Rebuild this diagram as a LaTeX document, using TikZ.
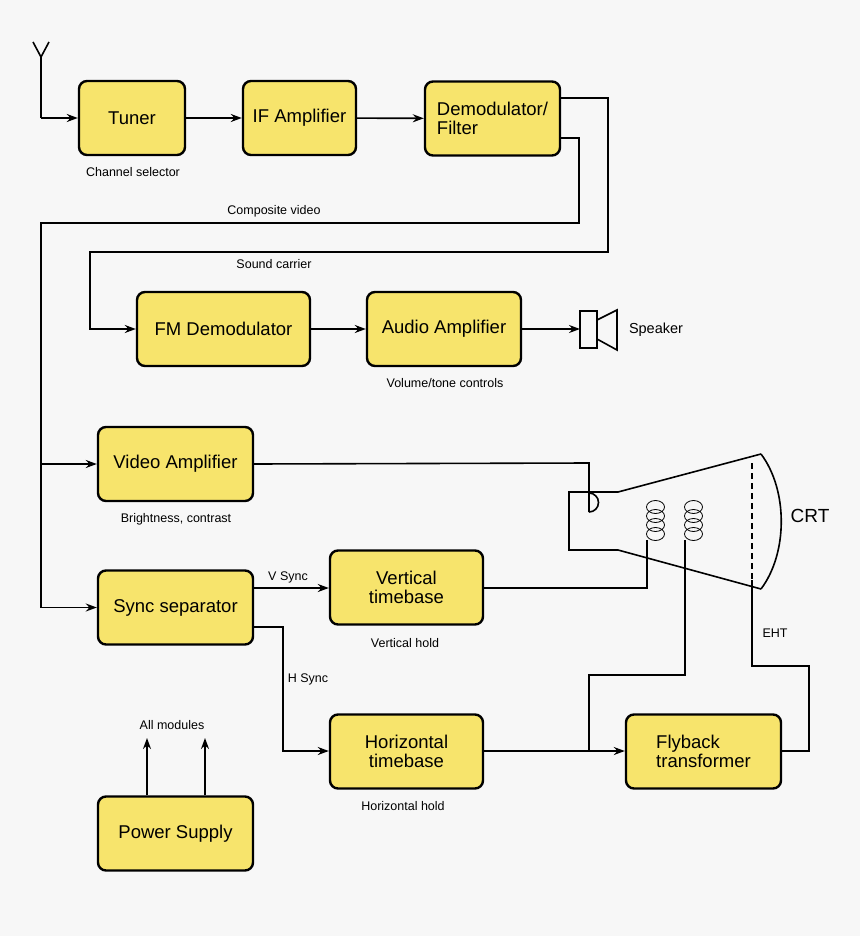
\documentclass[tikz,border=0pt]{standalone}
\usepackage{fontspec}
\setmainfont{Liberation Sans}
\usetikzlibrary{arrows.meta}
\definecolor{bg}{HTML}{F7F7F7}
\definecolor{boxy}{HTML}{F7E46C}
\begin{document}
\begin{tikzpicture}[x=1pt,y=-1pt,
  blk/.style={draw,line width=2.4pt,fill=boxy,rounded corners=8pt,minimum width=#1,minimum height=74pt,font=\fontsize{18.5}{19.5}\selectfont,align=center,inner sep=2pt},
  blk/.default=155pt,
  lab/.style={font=\fontsize{12.5}{13}\selectfont},
  ln/.style={line width=1.6pt},
  ar/.style={ln,-{Stealth[length=11pt,width=8pt]}}]
\fill[bg] (0,0) rectangle (860,936);
\useasboundingbox (0,0) rectangle (860,936);
\node[blk=106pt] (tuner) at (132,118) {Tuner};
\node[blk=113pt] (ifa) at (299.5,118) {IF Amplifier};
\node[blk=135pt,align=left] (dem) at (492.5,118.5) {Demodulator/\\Filter};
\node[blk=173pt] (fm) at (223.5,329) {FM Demodulator};
\node[blk=154pt] (aud) at (444,329) {Audio Amplifier};
\node[blk] (vid) at (175.5,464) {Video Amplifier};
\node[blk] (sync) at (175.5,607.5) {Sync separator};
\node[blk=153pt] (vt) at (406.5,587.5) {Vertical\\timebase};
\node[blk=153pt] (ht) at (406.5,751.5) {Horizontal\\timebase};
\node[blk,align=left] (fb) at (703.5,751.5) {Flyback\\transformer};
\node[blk] (ps) at (175.5,833.5) {Power Supply};
% labels
\node[lab] at (133,172) {Channel selector};
\node[lab] at (274,211) {Composite video};
\node[lab] at (274,264) {Sound carrier};
\node[lab] at (445,383) {Volume/tone controls};
\node[lab] at (176,519) {Brightness, contrast};
\node[lab] at (288,577) {V Sync};
\node[lab] at (405,643) {Vertical hold};
\node[lab] at (308,679) {H Sync};
\node[lab] at (172,725) {All modules};
\node[lab] at (403,806) {Horizontal hold};
\node[lab] at (775,633) {EHT};
\node[font=\fontsize{14.5}{15}\selectfont] at (656,330) {Speaker};
\node[font=\fontsize{19}{20}\selectfont] at (810,516) {CRT};
% antenna
\coordinate (ant) at (41,57);
\draw[ln] (33,42) -- (ant) -- (49,42) (ant) -- (41,118);
\draw[ar] (41,118) -- (tuner.west);
\draw[ar] (tuner) -- (ifa);
\draw[ar] (ifa) -- (dem);
% sound carrier
\draw[ar] (dem.east |- 0,98) -- (608,98) -- (608,252) -- (90,252) -- (90,329) -- (fm.west);
% composite video
\draw[ar] (dem.east |- 0,138) -- (579,138) -- (579,223) -- (41,223) -- (41,607.5) -- (sync.west);
\draw[ar] (41,464) -- (vid.west);
\draw[ar] (fm) -- (aud);
% speaker
\draw[ar] (aud.east) -- (580,329);
\draw[line width=2.2pt] (580,311) rectangle (597,348);
\draw[ln] (597,320) -- (617,310) -- (617,350) -- (597,339);
% CRT
\draw[ln] (vid.east) -- (589,463) -- (589,512);
\draw[ln] (589,512) arc[start angle=90,end angle=-90,radius=9.5];
\draw[ln] (618,492) -- (569,492) -- (569,550) -- (618,550) -- (761,589);
\draw[ln] (618,492) -- (761,454);
\draw[ln] (761,454) .. controls (788,490) and (788,553) .. (761,589);
\draw[ln,dash pattern=on 6pt off 4pt] (752,463) -- (752,580);
\foreach \cx in {655.5,693.5}{
  \foreach \cy in {507,516,525,534}{
    \draw[line width=0.8pt] (\cx,\cy) ellipse[x radius=9,y radius=6.5];
  }}
\draw[ln] (vt.east |- 0,588) -- (647,588) -- (647,540);
\draw[ln] (685,540) -- (685,675) -- (589,675) -- (589,751);
\draw[ar] (ht.east |- 0,751) -- (fb.west |- 0,751);
\draw[ln] (fb.east |- 0,751) -- (809,751) -- (809,666) -- (752,666) -- (752,580);
% sync
\draw[ar] (sync.east |- 0,588) -- (vt.west |- 0,588);
\draw[ar] (sync.east |- 0,627) -- (283,627) -- (283,751) -- (ht.west |- 0,751);
% power
\draw[ar] (ps.north -| 147,0) -- (147,738);
\draw[ar] (ps.north -| 205,0) -- (205,738);
\end{tikzpicture}
\end{document}
